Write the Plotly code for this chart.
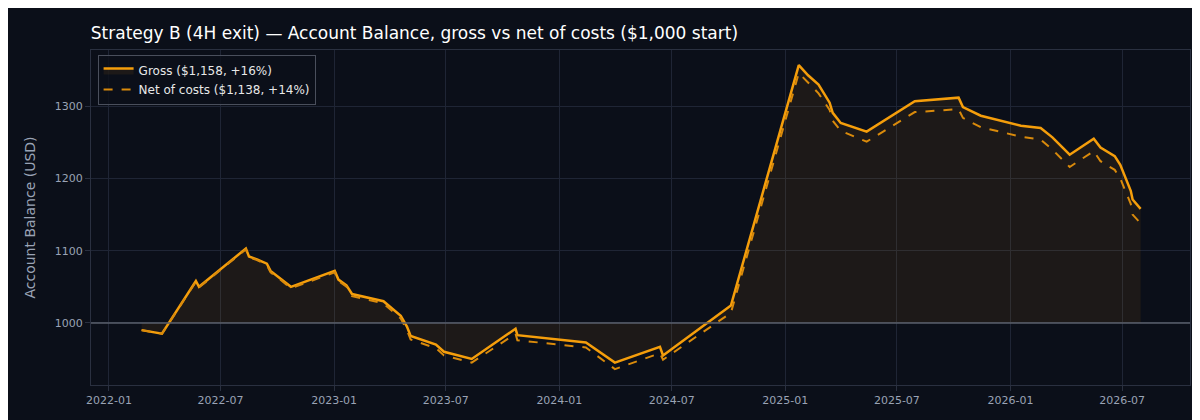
import plotly.graph_objects as go

dates = ["2022-02-23","2022-03-28","2022-05-22","2022-05-27","2022-08-11","2022-08-16","2022-08-29",
"2022-09-14","2022-09-20","2022-10-03","2022-10-23","2023-01-02","2023-01-08","2023-01-21","2023-01-30",
"2023-03-22","2023-04-19","2023-04-29","2023-05-05","2023-06-15","2023-06-28","2023-08-12","2023-10-22",
"2023-10-25","2024-02-13","2024-03-31","2024-06-12","2024-06-17","2024-10-05","2025-01-23","2025-02-07",
"2025-02-24","2025-03-14","2025-03-19","2025-04-01","2025-05-13","2025-07-30","2025-10-09","2025-10-16",
"2025-11-14","2026-01-18","2026-02-19","2026-03-10","2026-04-07","2026-05-16","2026-05-27","2026-06-19",
"2026-06-28","2026-07-15","2026-07-18","2026-07-31"]
gross = [990,985,1058,1050,1103,1092,1088,1082,1072,1063,1050,1072,1060,1052,1040,1030,1010,995,982,970,960,950,
992,983,973,945,967,955,1024,1357,1343,1330,1305,1291,1277,1265,1307,1312,1299,1287,1273,1270,1257,1233,1255,
1243,1231,1219,1183,1171,1158]
net = [990,985,1057,1049,1102,1091,1087,1080,1070,1062,1048,1070,1058,1050,1037,1027,1006,990,977,965,955,945,
985,976,966,936,958,949,1014,1346,1333,1318,1295,1280,1266,1251,1292,1296,1284,1271,1258,1254,1240,1216,1238,
1224,1212,1200,1165,1150,1138]
start = 1000

fig = go.Figure()
fig.add_trace(go.Scatter(x=dates, y=[start]*len(dates), mode="lines", line=dict(width=0),
                         showlegend=False, hoverinfo="skip"))
fig.add_trace(go.Scatter(x=dates, y=gross, mode="lines", fill="tonexty",
                         fillcolor="rgba(245,158,11,0.08)", line=dict(color="#f59e0b", width=2.5),
                         name="Gross ($1,158, +16%)"))
fig.add_trace(go.Scatter(x=dates, y=net, mode="lines", line=dict(color="#d98a0b", width=2, dash="dash"),
                         name="Net of costs ($1,138, +14%)"))
fig.add_hline(y=start, line=dict(color="#5a5f6b", width=1.5))

fig.update_layout(
    width=1200, height=420,
    paper_bgcolor="#0b0f19", plot_bgcolor="#0b0f19",
    margin=dict(l=83, r=18, t=42, b=43),
    title=dict(text="Strategy B (4H exit) — Account Balance, gross vs net of costs ($1,000 start)",
               x=0.069, xanchor="left", y=0.94, yanchor="middle",
               font=dict(family="DejaVu Sans", size=17, color="#ffffff")),
    font=dict(family="DejaVu Sans", color="#9aa3b5", size=11),
    legend=dict(x=0.006, y=0.985, xanchor="left", yanchor="top", bgcolor="rgba(11,15,25,0.8)",
                traceorder="normal",
                bordercolor="#4a4f5c", borderwidth=1, font=dict(color="#e8e8e8", size=12)),
    xaxis=dict(range=["2021-12-03", "2026-10-19"], tickvals=["2022-01-01","2022-07-01","2023-01-01","2023-07-01",
               "2024-01-01","2024-07-01","2025-01-01","2025-07-01","2026-01-01","2026-07-01"],
               ticktext=["2022-01","2022-07","2023-01","2023-07","2024-01","2024-07","2025-01","2025-07","2026-01","2026-07"],
               showgrid=True, gridcolor="#1f2535", zeroline=False, showline=True, linecolor="#2a3040",
               ticks="outside", tickcolor="#2a3040", mirror=True, automargin=False),
    yaxis=dict(range=[914, 1378], tickvals=[1000,1100,1200,1300], title=dict(text="Account Balance (USD)", font=dict(size=14)),
               showgrid=True, gridcolor="#1f2535", zeroline=False, showline=True, linecolor="#2a3040",
               ticks="outside", tickcolor="#2a3040", mirror=True, automargin=False),
)
fig.write_html("out.html")
